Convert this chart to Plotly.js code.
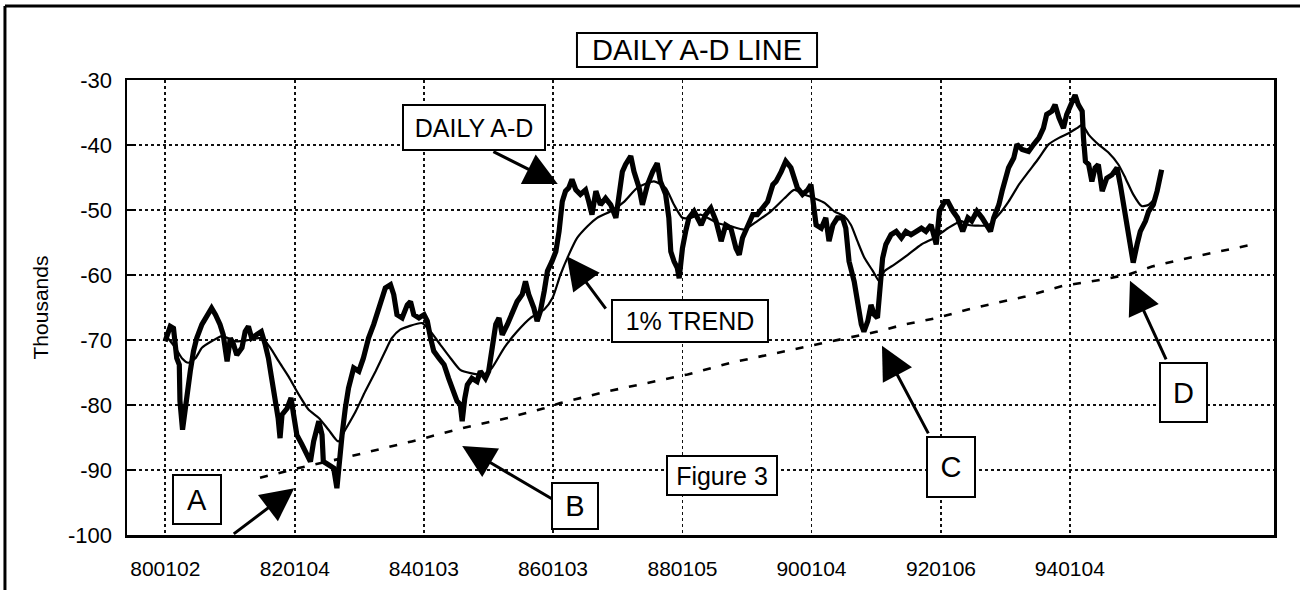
<!DOCTYPE html>
<html>
<head>
<meta charset="utf-8">
<script src="https://cdn.plot.ly/plotly-3.0.1.min.js"></script>
<style>html,body{margin:0;padding:0;background:#fff;}#chart{width:1300px;height:590px;}</style>
</head>
<body>
<div id="chart"></div>
<script>
// ---- data (decimal years, values in thousands) ----
const adYears = [1980.00,1980.08,1980.13,1980.18,1980.22,1980.23,1980.27,1980.30,1980.34,1980.39,1980.44,1980.49,1980.57,1980.65,1980.72,1980.78,1980.85,1980.90,1980.96,1981.01,1981.06,1981.11,1981.19,1981.24,1981.29,1981.34,1981.40,1981.49,1981.55,1981.60,1981.65,1981.71,1981.75,1981.78,1981.81,1981.89,1981.95,1981.99,1982.04,1982.12,1982.20,1982.25,1982.30,1982.38,1982.43,1982.45,1982.53,1982.61,1982.66,1982.70,1982.74,1982.79,1982.84,1982.92,1983.00,1983.07,1983.15,1983.23,1983.31,1983.41,1983.49,1983.54,1983.59,1983.67,1983.75,1983.80,1983.85,1983.93,1984.01,1984.06,
1984.11,1984.16,1984.24,1984.32,1984.39,1984.47,1984.52,1984.57,1984.60,1984.64,1984.68,1984.75,1984.83,1984.88,1984.96,1985.01,1985.06,1985.12,1985.17,1985.22,1985.30,1985.37,1985.45,1985.53,1985.58,1985.63,1985.71,1985.76,1985.81,1985.87,1985.92,1985.99,1986.05,1986.10,1986.15,1986.20,1986.25,1986.30,1986.36,1986.43,1986.51,1986.56,1986.61,1986.67,1986.74,1986.82,1986.90,1986.98,1987.03,1987.08,1987.13,1987.21,1987.26,1987.34,1987.39,1987.47,1987.55,1987.62,1987.67,1987.75,1987.80,1987.83,1987.88,1987.93,1987.96,1988.01,1988.06,1988.11,1988.19,
1988.30,1988.37,1988.45,1988.53,1988.61,1988.68,1988.76,1988.84,1988.89,1988.94,1989.02,1989.10,1989.17,1989.25,1989.33,1989.41,1989.46,1989.54,1989.61,1989.69,1989.74,1989.79,1989.87,1989.95,1990.00,1990.04,1990.08,1990.16,1990.23,1990.28,1990.34,1990.41,1990.49,1990.54,1990.59,1990.67,1990.72,1990.78,1990.82,1990.88,1990.93,1990.98,1991.03,1991.08,1991.11,1991.16,1991.24,1991.32,1991.40,1991.47,1991.55,1991.63,1991.71,1991.78,1991.86,1991.94,1991.99,1992.07,1992.12,1992.20,1992.27,1992.35,1992.43,
1992.49,1992.57,1992.65,1992.73,1992.78,1992.83,1992.91,1992.96,1993.01,1993.06,1993.14,1993.19,1993.27,1993.37,1993.45,1993.53,1993.60,1993.65,1993.73,1993.78,1993.84,1993.91,1993.96,1994.02,1994.09,1994.14,1994.20,1994.22,1994.25,1994.30,1994.35,1994.40,1994.45,1994.51,1994.58,1994.66,1994.74,1994.79,1994.84,1994.89,1994.94,1994.99,1995.05,1995.10,1995.18,1995.23,1995.30,1995.36,1995.43];
const adValues = [-70.2,-67.9,-68.2,-72.8,-73.8,-79.4,-83.8,-81.5,-77.4,-74.8,-71.7,-69.7,-67.6,-66.1,-65.1,-66.1,-67.6,-69.2,-73.3,-69.7,-70.7,-72.3,-71.2,-68.7,-67.9,-69.7,-69.2,-68.7,-70.7,-72.8,-75.9,-79.4,-82.0,-85.1,-81.5,-80.5,-78.9,-81.5,-84.6,-86.1,-87.6,-88.7,-85.6,-82.5,-84.6,-88.7,-89.2,-89.7,-92.8,-87.6,-84.6,-80.5,-77.4,-74.3,-74.8,-72.8,-69.7,-67.6,-65.1,-62.0,-61.5,-63.0,-66.1,-66.6,-64.6,-64.1,-66.1,-66.6,-66.1,-67.1,
-69.7,-71.7,-72.8,-73.8,-75.9,-77.9,-79.4,-79.9,-82.5,-79.0,-76.9,-75.9,-76.4,-74.8,-75.9,-74.8,-71.7,-67.6,-66.6,-69.2,-67.6,-66.1,-64.1,-63.0,-61.0,-63.0,-65.1,-67.1,-65.6,-62.5,-59.4,-57.9,-56.4,-53.3,-48.7,-47.1,-46.6,-45.3,-46.9,-47.6,-46.9,-48.7,-50.7,-47.1,-49.2,-48.2,-49.2,-51.2,-47.6,-44.1,-43.0,-41.7,-44.1,-46.6,-49.2,-46.1,-44.1,-42.8,-45.6,-47.6,-51.2,-56.4,-57.9,-58.9,-60.5,-55.9,-53.3,-51.2,-50.2,
-52.3,-50.7,-49.7,-51.7,-54.8,-52.3,-52.8,-55.9,-56.9,-54.3,-52.3,-50.7,-50.7,-49.7,-48.7,-46.1,-45.6,-44.1,-42.5,-43.5,-45.1,-46.6,-47.6,-46.9,-46.1,-48.7,-52.3,-52.8,-51.2,-54.8,-52.3,-51.2,-51.2,-52.8,-57.9,-61.0,-64.6,-67.6,-68.7,-67.1,-64.6,-66.1,-66.6,-61.0,-57.4,-55.3,-53.8,-53.3,-54.3,-53.3,-53.8,-53.3,-52.8,-53.3,-52.3,-55.3,-50.2,-48.7,-48.7,-50.2,-51.2,-53.3,-51.2,
-51.7,-50.2,-51.2,-52.3,-53.3,-51.2,-49.2,-47.1,-45.1,-43.5,-42.0,-39.9,-40.7,-41.0,-39.9,-38.9,-37.4,-35.3,-34.8,-33.8,-35.8,-37.4,-35.3,-33.8,-32.3,-33.8,-34.8,-38.9,-42.5,-43.0,-45.6,-43.5,-43.0,-47.1,-45.1,-44.6,-43.5,-46.1,-49.2,-52.3,-55.9,-58.1,-55.3,-53.3,-51.7,-50.2,-49.2,-47.1,-43.8];

const trendYears = [1980.00,1980.16,1980.26,1980.36,1980.47,1980.57,1980.72,1980.88,1981.09,1981.29,1981.50,1981.63,1981.76,1981.91,1982.07,1982.22,1982.38,1982.53,1982.68,1982.79,1982.95,1983.10,1983.26,1983.41,1983.51,1983.64,1983.77,1983.98,
1984.11,1984.26,1984.42,1984.57,1984.73,1984.94,1985.06,1985.25,1985.45,1985.66,1985.87,1986.00,1986.12,1986.25,1986.38,1986.54,1986.69,1986.90,1987.11,1987.31,1987.57,1987.75,1987.88,1988.01,1988.14,1988.29,
1988.55,1988.76,1988.97,1989.17,1989.38,1989.59,1989.74,1989.90,1990.05,1990.21,1990.36,1990.52,1990.62,1990.72,1990.83,1990.96,1991.06,1991.14,1991.29,1991.50,1991.71,1991.91,1992.12,1992.33,
1992.44,1992.75,1992.91,1993.06,1993.22,1993.37,1993.53,1993.68,1993.84,1993.99,1994.12,1994.20,1994.30,1994.45,1994.61,1994.76,1994.87,1994.99,1995.12,1995.23,1995.33];
const trendValues = [-69.2,-71.2,-72.8,-73.5,-72.8,-71.2,-70.2,-69.4,-70.2,-70.0,-69.7,-71.2,-73.3,-75.6,-78.4,-80.7,-82.0,-83.8,-85.6,-83.8,-81.0,-77.9,-74.8,-71.7,-69.7,-68.4,-67.9,-67.4,
-68.7,-70.7,-72.8,-74.6,-75.1,-75.3,-74.3,-71.2,-68.7,-66.6,-65.3,-63.5,-60.0,-56.9,-54.3,-52.5,-51.2,-50.2,-48.7,-46.6,-45.6,-46.6,-49.2,-51.2,-51.2,-50.7,
-52.0,-52.5,-53.0,-51.7,-50.2,-48.2,-46.9,-47.6,-48.2,-48.9,-50.2,-51.0,-52.3,-54.8,-57.4,-59.4,-61.0,-59.4,-58.4,-56.9,-55.3,-54.3,-52.8,-51.7,
-52.3,-52.3,-50.7,-48.7,-46.1,-44.1,-42.0,-39.9,-38.9,-38.2,-37.4,-36.9,-38.4,-39.9,-41.2,-43.0,-45.1,-47.6,-49.4,-49.2,-48.2];

const supportYears = [1981.47,1982.07,1982.74,1983.20,1983.82,1984.63,1985.30,1985.87,1986.12,1986.85,1987.57,1988.09,1988.76,1989.33,1989.95,1990.41,1991.03,1991.45,1991.96,1992.43,1993.32,1993.89,1994.51,1994.92,1995.28,1995.74,1996.84];
const supportValues = [-91.2,-89.7,-88.2,-87.1,-85.6,-83.5,-82.0,-80.5,-79.7,-77.9,-76.4,-75.3,-73.5,-72.3,-71.0,-70.1,-68.7,-67.6,-66.6,-65.3,-63.3,-61.7,-60.7,-59.9,-58.7,-57.6,-55.3];

const xTickLabels = ['800102','820104','840103','860103','880105','900104','920106','940104'];
const yTickValues = [-30,-40,-50,-60,-70,-80,-90,-100];
const yTickLabels = ['-30','-40','-50','-60','-70','-80','-90','-100'];

// tick positions derived from the YYMMDD labels
function labelToYear(s){
  const yy = 1900 + parseInt(s.slice(0,2),10);
  const mm = parseInt(s.slice(2,4),10);
  const dd = parseInt(s.slice(4,6),10);
  const t = Date.UTC(yy, mm-1, dd) - Date.UTC(yy,0,1);
  return yy + t/(365.25*864e5);
}
const xTickVals = xTickLabels.map(labelToYear);

const FONT = 'Liberation Sans, Arial, Helvetica, sans-serif';

const traces = [
  {x: supportYears, y: supportValues, type:'scatter', mode:'lines', name:'Trend line',
   line:{color:'#000', width:2.6, dash:'8px,11px'}, hoverinfo:'skip'},
  {x: adYears, y: adValues, type:'scatter', mode:'lines', name:'DAILY A-D',
   line:{color:'#000', width:5.2}},
  {x: trendYears, y: trendValues, type:'scatter', mode:'lines', name:'1% TREND',
   line:{color:'#000', width:2.2, shape:'spline', smoothing:0.6}}
];

function box(text, x, y, w, h, size){
  return {text:text, x:x, y:y, xref:'x', yref:'y', xanchor:'center', yanchor:'middle',
    showarrow:false, width:w, height:h, bordercolor:'#000', borderwidth:2, borderpad:0,
    bgcolor:'#fff', font:{family:FONT, size:size, color:'#000'}};
}
function arrow(hx, hy, tx, ty){
  return {text:'', x:hx, y:hy, xref:'x', yref:'y', ax:tx, ay:ty, axref:'x', ayref:'y',
    showarrow:true, arrowhead:2, arrowsize:2.2, arrowwidth:3, arrowcolor:'#000', standoff:0, startstandoff:0};
}

const annotations = [
  arrow(1986.08,-46.0, 1985.06,-40.9),
  arrow(1986.22,-57.1, 1986.84,-65.4),
  arrow(1982.00,-92.8, 1981.04,-100.0),
  arrow(1984.60,-86.3, 1986.05,-94.8),
  arrow(1991.10,-70.9, 1991.83,-84.6),
  arrow(1994.94,-60.9, 1995.51,-73.2),
  box('DAILY A-D', 1984.79, -37.38, 140, 43, 25),
  box('1% TREND', 1988.12, -67.15, 154, 40, 25),
  box('A', 1980.50, -94.6, 46, 47, 29),
  box('B', 1986.34, -95.6, 44, 44, 29),
  box('Figure 3', 1988.63, -90.9, 108, 37, 25),
  box('C', 1992.17, -89.6, 46, 58, 29),
  box('D', 1995.77, -78.15, 45, 57, 29)
];

const shapes = [
  // title frame
  {type:'rect', xref:'paper', yref:'paper', x0:0.3923, x1:0.6016, y0:1.0286, y1:1.1033,
   line:{color:'#000', width:2}, fillcolor:'rgba(0,0,0,0)'},
  // outer frame (left and top edges)
  {type:'line', xref:'paper', yref:'paper', x0:-0.1064, x1:-0.1064, y0:-0.13, y1:1.1626, line:{color:'#000', width:3}},
  {type:'line', xref:'paper', yref:'paper', x0:-0.1064, x1:1.03, y0:1.1626, y1:1.1626, line:{color:'#000', width:3}}
];

const layout = {
  width:1300, height:590,
  margin:{l:127, r:26, t:80, b:55},
  paper_bgcolor:'#fff', plot_bgcolor:'#fff',
  showlegend:false,
  font:{family:FONT, color:'#000'},
  title:{text:'DAILY A-D LINE', x:697/1300, xref:'container', y:1-50/590, yref:'container',
         xanchor:'center', yanchor:'middle', font:{family:FONT, size:29, color:'#000'}},
  xaxis:{range:[1979.41,1997.17], tickmode:'array', tickvals:xTickVals, ticktext:xTickLabels,
         showgrid:true, gridcolor:'#111', gridwidth:1.6, griddash:'dot', zeroline:false,
         showline:true, mirror:true, linecolor:'#000', linewidth:2.5, ticks:'',
         tickfont:{family:FONT, size:21, color:'#000'}, ticklabelstandoff:13},
  yaxis:{range:[-100,-30], tickmode:'array', tickvals:yTickValues, ticktext:yTickLabels,
         showgrid:true, gridcolor:'#111', gridwidth:1.6, griddash:'dot', zeroline:false,
         showline:true, mirror:true, linecolor:'#000', linewidth:2.5,
         ticks:'inside', ticklen:9, tickwidth:2, tickcolor:'#000',
         tickfont:{family:FONT, size:22, color:'#000'}, ticklabelstandoff:8,
         title:{text:'Thousands', font:{family:FONT, size:21, color:'#000'}, standoff:14}},
  annotations:annotations,
  shapes:shapes
};

Plotly.newPlot('chart', traces, layout, {displayModeBar:false, staticPlot:true});
</script>
</body>
</html>
